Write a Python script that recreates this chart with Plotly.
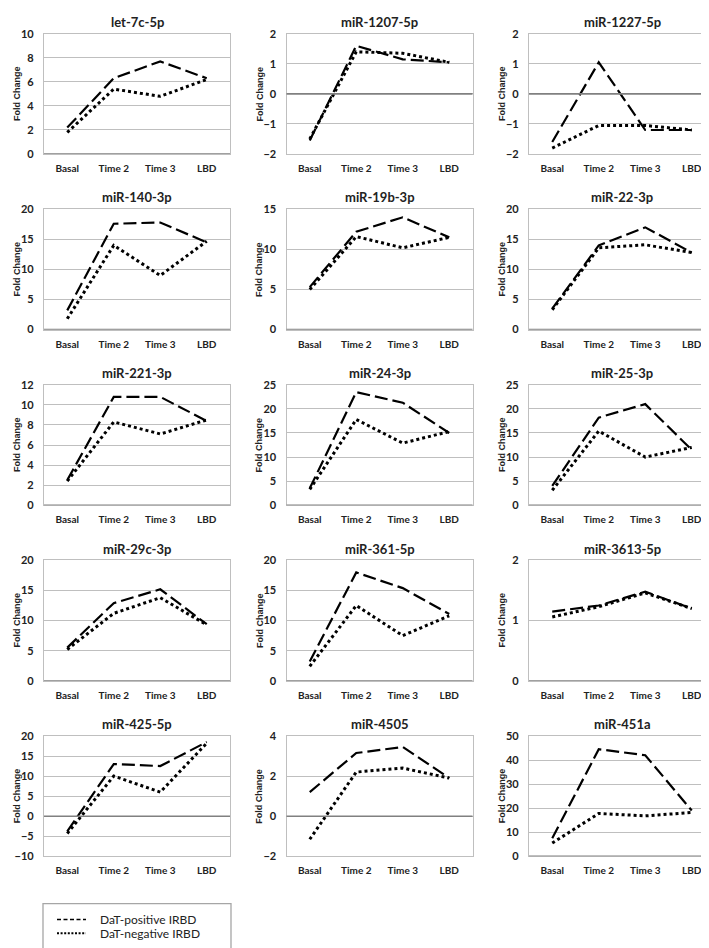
import plotly.graph_objects as go

categories = ["Basal", "Time 2", "Time 3", "LBD"]

mirnas = ["let-7c-5p", "miR-1207-5p", "miR-1227-5p",
          "miR-140-3p", "miR-19b-3p", "miR-22-3p",
          "miR-221-3p", "miR-24-3p", "miR-25-3p",
          "miR-29c-3p", "miR-361-5p", "miR-3613-5p",
          "miR-425-5p", "miR-4505", "miR-451a"]

dat_positive = [
    [2.2, 6.3, 7.7, 6.3],
    [-1.55, 1.6, 1.15, 1.05],
    [-1.6, 1.05, -1.2, -1.2],
    [3.2, 17.6, 17.8, 14.5],
    [5.3, 12.2, 14.0, 11.5],
    [3.5, 14.0, 17.0, 12.8],
    [2.5, 10.8, 10.8, 8.4],
    [3.5, 23.5, 21.3, 15.0],
    [4.0, 18.2, 21.0, 11.5],
    [5.5, 12.9, 15.2, 9.4],
    [3.2, 18.0, 15.4, 11.1],
    [1.15, 1.25, 1.48, 1.2],
    [-3.8, 13.0, 12.5, 18.5],
    [1.2, 3.15, 3.45, 1.9],
    [7.5, 44.5, 42.0, 19.0],
]

dat_negative = [
    [1.8, 5.4, 4.8, 6.2],
    [-1.5, 1.4, 1.35, 1.05],
    [-1.8, -1.05, -1.05, -1.2],
    [1.8, 14.0, 9.0, 14.7],
    [5.0, 11.6, 10.2, 11.5],
    [3.3, 13.6, 14.1, 12.8],
    [2.4, 8.3, 7.1, 8.5],
    [3.3, 17.8, 12.9, 15.3],
    [3.1, 15.4, 10.0, 12.0],
    [5.2, 11.2, 13.8, 9.3],
    [2.4, 12.5, 7.5, 10.8],
    [1.06, 1.23, 1.46, 1.2],
    [-4.3, 10.0, 6.0, 18.2],
    [-1.15, 2.2, 2.4, 1.9],
    [5.5, 17.8, 16.8, 18.2],
]

y_min = [0, -2, -2, 0, 0, 0, 0, 0, 0, 0, 0, 0, -10, -2, 0]
y_max = [10, 2, 2, 20, 15, 20, 12, 25, 25, 20, 20, 2, 20, 4, 50]
y_step = [2, 1, 1, 5, 5, 5, 2, 5, 5, 5, 5, 1, 5, 2, 10]

series_names = ["DaT-positive IRBD", "DaT-negative IRBD"]

W, H = 709, 948
FONT = "Lato, 'Open Sans', Arial, sans-serif"
GRID = "#bfbfbf"
ZERO = "#808080"
POS_DASH = "13px,5px"
NEG_DASH = "dot"

col_left = [36, 278.5, 521]
plot_w = 186
row_top0 = 19
row_pitch = 178
plot_h = 122


def X(px):
    return px / W


def Y(py):
    return 1 - py / H


fig = go.Figure()
layout = {}
annotations = []
shapes = []

for i, name in enumerate(mirnas):
    r, c = divmod(i, 3)
    n = i + 1
    sfx = "" if n == 1 else str(n)
    xa, ya = "x" + sfx, "y" + sfx
    left = col_left[c]
    top = row_top0 + row_pitch * r

    layout["xaxis" + sfx] = dict(
        domain=[X(left), X(left + plot_w)], anchor=ya,
        type="category", categoryorder="array", categoryarray=categories,
        range=[-0.5, 3.5], showgrid=False, zeroline=False,
        showline=True, mirror=True, linecolor=GRID, linewidth=1.3,
        ticks="", ticklabelstandoff=5,
        tickfont=dict(family=FONT, size=10, color="#222", weight="bold"),
        fixedrange=True,
    )
    layout["yaxis" + sfx] = dict(
        domain=[Y(top + plot_h), Y(top)], anchor=xa,
        range=[y_min[i], y_max[i]], tick0=y_min[i], dtick=y_step[i],
        showgrid=True, gridcolor=GRID, gridwidth=1.3, zeroline=False,
        showline=True, mirror=True, linecolor=GRID, linewidth=1.3,
        ticks="", ticklabelstandoff=7,
        tickfont=dict(family=FONT, size=11, color="#222", weight="bold"),
        fixedrange=True,
    )

    if y_min[i] <= 0 <= y_max[i]:
        shapes.append(dict(type="line", xref=xa + " domain", yref=ya,
                           x0=0, x1=1, y0=0, y1=0,
                           line=dict(color=ZERO, width=1.6), layer="above"))

    annotations.append(dict(
        text="<b>" + name + "</b>", xref="paper", yref="paper",
        x=X(left + plot_w / 2), y=Y(top - 12), xanchor="center", yanchor="middle",
        showarrow=False, font=dict(family=FONT, size=13, color="#222")))
    annotations.append(dict(
        text="<b>Fold Change</b>", xref="paper", yref="paper",
        x=X(left - 27), y=Y(top + plot_h / 2), xanchor="center", yanchor="middle",
        textangle=-90, showarrow=False,
        font=dict(family="'Liberation Sans', Arial, sans-serif", size=9, color="#222")))

    fig.add_trace(go.Scatter(
        x=categories, y=dat_positive[i], xaxis=xa, yaxis=ya, mode="lines",
        name=series_names[0], showlegend=False,
        line=dict(color="black", width=2.2, dash=POS_DASH)))
    fig.add_trace(go.Scatter(
        x=categories, y=dat_negative[i], xaxis=xa, yaxis=ya, mode="lines",
        name=series_names[1], showlegend=False,
        line=dict(color="black", width=3, dash=NEG_DASH)))

# legend (drawn manually to match compact spacing)
shapes.append(dict(type="rect", xref="paper", yref="paper",
                   x0=X(35), x1=X(223), y0=Y(947), y1=Y(901),
                   line=dict(color="#a6a6a6", width=1.3), fillcolor="rgba(0,0,0,0)"))
legend_rows = [(917, "4px,2.5px", 1.6), (931, "2px,1.6px", 2.2)]
for (ly, dash, lw), label in zip(legend_rows, series_names):
    shapes.append(dict(type="line", xref="paper", yref="paper",
                       x0=X(49), x1=X(78), y0=Y(ly), y1=Y(ly),
                       line=dict(color="black", width=lw, dash=dash)))
    annotations.append(dict(
        text=label, xref="paper", yref="paper", x=X(90), y=Y(ly),
        xanchor="left", yanchor="middle", showarrow=False,
        font=dict(family=FONT, size=12, color="#222")))

fig.update_layout(
    width=W, height=H, margin=dict(l=0, r=0, t=0, b=0),
    paper_bgcolor="white", plot_bgcolor="white",
    annotations=annotations, shapes=shapes,
    showlegend=False,
    **layout,
)

fig.write_html("out.html")
